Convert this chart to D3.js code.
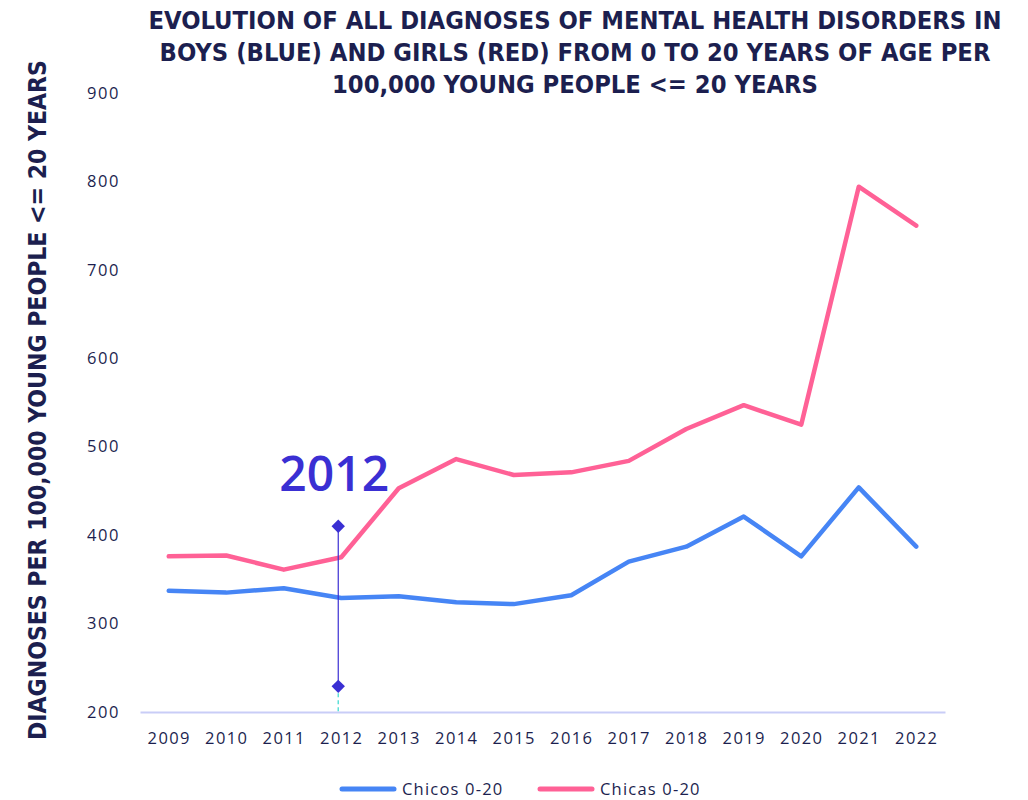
<!DOCTYPE html>
<html>
<head>
<meta charset="utf-8">
<script src="https://cdn.jsdelivr.net/npm/d3@7"></script>
<style>
  html, body { margin: 0; padding: 0; background: #fff; }
  svg { display: block; }
</style>
</head>
<body>
<svg id="chart" width="1028" height="800"></svg>
<script>
// Years on the x axis
const years = ["2009","2010","2011","2012","2013","2014","2015","2016","2017","2018","2019","2020","2021","2022"];
// Diagnoses per 100,000 young people, boys
const chicos = [337, 335, 340, 329, 331, 324, 322, 332, 370, 387, 421, 376, 454, 387];
// Diagnoses per 100,000 young people, girls
const chicas = [376, 377, 361, 375, 453, 486, 468, 471, 484, 520, 547, 525, 794, 750];
// Y axis ticks
const yTicks = [200, 300, 400, 500, 600, 700, 800, 900];
// Hover crosshair: highlighted year and the two marker values
const hoverYear = "2012";
const hoverMarks = [410, 229];

const titleLines = [
  "EVOLUTION OF ALL DIAGNOSES OF MENTAL HEALTH DISORDERS IN",
  "BOYS (BLUE) AND GIRLS (RED) FROM 0 TO 20 YEARS OF AGE PER",
  "100,000 YOUNG PEOPLE <= 20 YEARS"
];
const yTitle = "DIAGNOSES PER 100,000 YOUNG PEOPLE <= 20 YEARS";
const series = [
  { name: "Chicos 0-20", values: chicos, color: "#4685f5" },
  { name: "Chicas 0-20", values: chicas, color: "#ff6196" }
];

const navy = "#1c1f4f";
const svg = d3.select("#chart");

const plotLeft = 140, plotRight = 945, plotTop = 93, plotBottom = 712;

const x = d3.scalePoint().domain(years).range([plotLeft, plotRight]).padding(0.5);
const y = d3.scaleLinear().domain([200, 900]).range([plotBottom, plotTop]);

// Title
const condensed = "'DejaVu Sans Condensed', 'Liberation Sans Narrow', sans-serif";
const bodyFont = "'Open Sans', 'Noto Sans', sans-serif";
svg.append("g").selectAll("text").data(titleLines).join("text")
  .attr("x", 575).attr("y", (d, i) => 29 + i * 32)
  .attr("text-anchor", "middle")
  .attr("font-family", condensed)
  .attr("font-weight", "bold")
  .attr("font-size", 25.3)
  .attr("fill", navy)
  .text(d => d);

// Y axis title
svg.append("text")
  .attr("transform", "translate(46,400) rotate(-90)")
  .attr("text-anchor", "middle")
  .attr("font-family", condensed)
  .attr("font-weight", "bold")
  .attr("font-size", 24.5)
  .attr("fill", navy)
  .text(yTitle);

// Y axis (labels only)
const yAxis = svg.append("g")
  .attr("transform", `translate(${plotLeft},0)`)
  .call(d3.axisLeft(y).tickValues(yTicks).tickSize(0).tickPadding(20));
yAxis.select(".domain").remove();
yAxis.selectAll("text")
  .attr("font-family", bodyFont)
  .attr("font-size", 16.5)
  .attr("letter-spacing", 1.6)
  .attr("fill", navy);

// X axis
const xAxis = svg.append("g")
  .attr("transform", `translate(0,${plotBottom})`)
  .call(d3.axisBottom(x).tickSize(0).tickPadding(20));
xAxis.select(".domain")
  .attr("stroke", "#c9cdf7").attr("stroke-width", 2);
xAxis.selectAll("text")
  .attr("font-family", bodyFont)
  .attr("font-size", 16.5)
  .attr("letter-spacing", 1.4)
  .attr("fill", navy);

// Series lines
const line = d3.line().x((d, i) => x(years[i])).y(d => y(d));
svg.append("g").selectAll("path").data(series).join("path")
  .attr("d", d => line(d.values))
  .attr("fill", "none")
  .attr("stroke", d => d.color)
  .attr("stroke-width", 4.5)
  .attr("stroke-linejoin", "round")
  .attr("stroke-linecap", "round");

// Hover crosshair
const hx = x(hoverYear) - 3;
const accent = "#3a2fd3";
const hover = svg.append("g");
hover.append("line")
  .attr("x1", hx).attr("x2", hx)
  .attr("y1", y(d3.min(hoverMarks))).attr("y2", plotBottom)
  .attr("stroke", "#5ee0d8").attr("stroke-width", 1.5)
  .attr("stroke-dasharray", "4,3");
hover.append("line")
  .attr("x1", hx).attr("x2", hx)
  .attr("y1", y(d3.max(hoverMarks))).attr("y2", y(d3.min(hoverMarks)))
  .attr("stroke", accent).attr("stroke-width", 1.2);
hover.selectAll("path.mark").data(hoverMarks).join("path")
  .attr("class", "mark")
  .attr("d", d3.symbol(d3.symbolSquare, 90))
  .attr("transform", d => `translate(${hx},${y(d)}) rotate(45)`)
  .attr("fill", accent);
hover.append("text")
  .attr("x", hx - 4).attr("y", y(d3.max(hoverMarks)) - 35)
  .attr("text-anchor", "middle")
  .attr("font-family", bodyFont)
  .attr("font-size", 48)
  .attr("font-weight", 600)
  .attr("fill", accent)
  .text(hoverYear);

// Legend
const legend = svg.append("g").attr("transform", "translate(0,789)");
const legendX = [342, 540];
series.forEach((s, i) => {
  const g = legend.append("g").attr("transform", `translate(${legendX[i]},0)`);
  g.append("line")
    .attr("x1", 0).attr("x2", 52).attr("y1", 0).attr("y2", 0)
    .attr("stroke", s.color).attr("stroke-width", 5).attr("stroke-linecap", "round");
  g.append("text")
    .attr("x", 60).attr("y", 0).attr("dy", "0.35em")
    .attr("font-family", bodyFont)
    .attr("font-size", 16.5)
    .attr("letter-spacing", 1.2)
    .attr("fill", navy)
    .text(s.name);
});
</script>
</body>
</html>
